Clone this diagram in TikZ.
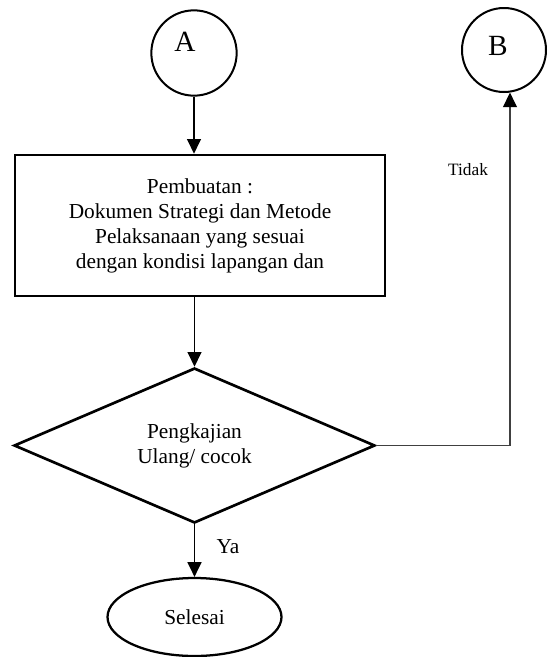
\documentclass[tikz,border=0pt]{standalone}
\usepackage{fontspec}
\setmainfont{Liberation Serif}
\usetikzlibrary{arrows.meta, positioning, calc, shapes.geometric}
\definecolor{ink}{HTML}{000000}
\definecolor{linegray}{HTML}{404040}

\begin{document}
\begin{tikzpicture}[
  x=0.75pt, y=0.75pt,
  >={Triangle[length=11pt, width=10.5pt]},
  connbox/.style={draw=ink, line width=1.5pt, circle, minimum size=64pt,
    inner sep=0pt},
  procbox/.style={draw=ink, line width=2pt, minimum width=277.5pt,
    minimum height=105.75pt, align=center, inner sep=0pt,
    font=\fontsize{16}{18.75}\selectfont},
  decbox/.style={draw=ink, line width=2pt, diamond, aspect=2.33,
    minimum width=270.75pt, minimum height=116.25pt, inner sep=0pt,
    align=center, font=\fontsize{16}{18.75}\selectfont},
  endbox/.style={draw=ink, line width=1.7pt, ellipse, minimum width=130.5pt,
    minimum height=58.5pt, inner sep=0pt, font=\fontsize{16}{18.75}\selectfont},
  flow/.style={->, line width=0.9pt, draw=ink},
  lbl/.style={font=\fontsize{16}{18.75}\selectfont, inner sep=0pt},
]

% Page frame
\useasboundingbox (0,0) rectangle (548,-657);

% === Connectors A and B ===
\node[connbox] (startA) at (194,-53) {};
\node[font=\fontsize{22}{24}\selectfont, inner sep=0pt] at (185,-42) {A};
\node[connbox, minimum size=63pt] (endB) at (504,-50) {};
\node[font=\fontsize{22}{24}\selectfont, inner sep=0pt] at (498,-46) {B};

% === Process ===
\node[procbox] (buat) at (200,-225.5)
  {Pembuatan :\\Dokumen Strategi dan Metode\\Pelaksanaan yang sesuai\\dengan kondisi lapangan dan};

% === Decision ===
\node[decbox] (kaji) at (194.5,-445.5) {Pengkajian\\Ulang/ cocok};

% === End ===
\node[endbox] (selesai) at (194.5,-617) {Selesai};

% === Arrows ===
\draw[flow] (startA.south) -- (startA.south |- buat.north);
\draw[flow] (kaji.north |- buat.south) -- (kaji.north);
\draw[flow] (kaji.south) -- (selesai.north);
\draw[flow, draw=linegray, -{Triangle[length=11pt, width=10.5pt, color=ink]}]
  (kaji.east) -| (endB.-82);

% Labels
\node[lbl] (ya) at (228,-547) {Ya};
\node[lbl, font=\fontsize{13}{15}\selectfont] (tidak) at (468,-170) {Tidak};

\end{tikzpicture}
\end{document}
